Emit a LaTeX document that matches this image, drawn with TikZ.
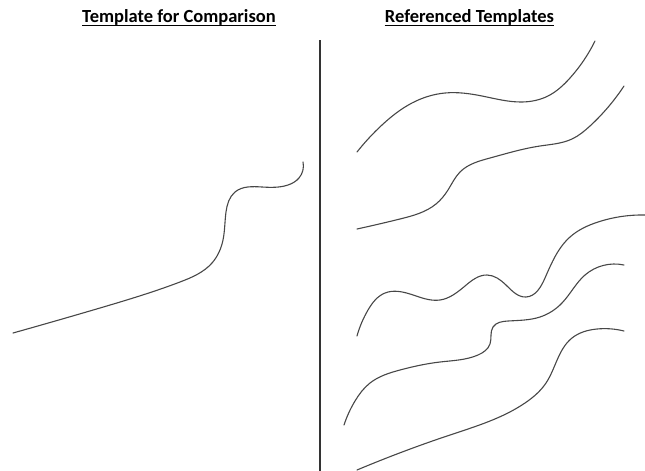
\documentclass[tikz,border=0pt]{standalone}
\usepackage{fontspec}
\setmainfont{Carlito}
\usetikzlibrary{hobby}
\begin{document}
\begin{tikzpicture}[x=1pt,y=-1pt,
  curve/.style={draw=black!72,line width=1.1pt,line cap=round},
  title/.style={font=\bfseries\fontsize{18.5}{22}\selectfont,inner sep=0pt,anchor=base}]
\useasboundingbox (0,0) rectangle (645,471);
\node[title] (t1) at (179,22) {Template for Comparison};
\node[title] (t2) at (469.5,22) {Referenced Templates};
\draw[line width=1.3pt] ([yshift=-3.5pt]t1.base west) -- ([yshift=-3.5pt]t1.base east);
\draw[line width=1.3pt] ([yshift=-3.5pt]t2.base west) -- ([yshift=-3.5pt]t2.base east);
% divider
\draw[line width=1.1pt,black!80] (320,40) -- (320,471);
% left template
\draw[curve] plot[hobby] coordinates {(13,333) (100,308) (180,282) (212,263) (223,240) (226,212) (235,192) (262,187) (288,185) (299,178) (303,162)};
% right templates
\draw[curve] plot[hobby] coordinates {(357,152) (382,125) (412,103) (445,93) (482,96) (522,102) (548,96) (570,78) (595,41)};
\draw[curve] plot[hobby] coordinates {(357,229) (400,219) (436,204) (448,190) (460,172) (490,158) (540,146) (572,139) (590,126) (624,86)};
\draw[curve] plot[hobby] coordinates {(357,336) (368,310) (385,293) (410,294) (440,300) (465,286) (487,275) (506,285) (526,297) (545,278) (570,237) (598,222) (645,215)};
\draw[curve] plot[hobby] coordinates {(344,425) (355,401) (370,383) (400,370) (440,362) (478,355) (490,344) (493,327) (508,321) (540,317) (562,303) (585,275) (624,265)};
\draw[curve] plot[hobby] coordinates {(357,470) (450,435) (525,403) (546,383) (572,338) (597,329) (624,331)};
\end{tikzpicture}
\end{document}
